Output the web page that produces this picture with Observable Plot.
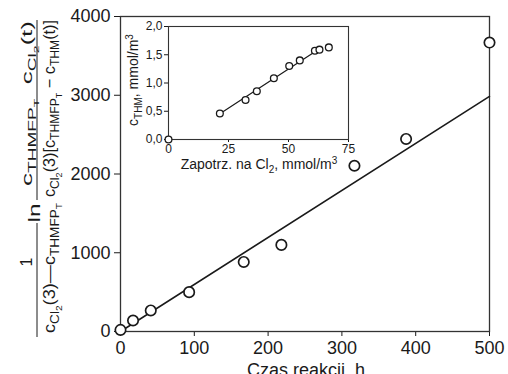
<!DOCTYPE html>
<html><head><meta charset="utf-8">
<script src="https://cdn.jsdelivr.net/npm/d3@7"></script>
<script src="https://cdn.jsdelivr.net/npm/@observablehq/plot@0.6"></script>
<style>
body{margin:0;background:#fff;}
#wrap{position:relative;width:508px;height:374px;overflow:hidden;}
#inset{position:absolute;left:120px;top:10px;}
text{white-space:pre;}
</style></head><body>
<div id="wrap"><div id="main"></div><div id="inset"></div></div>
<script>
// Main chart data
const timeH = [0, 17, 41, 93, 167, 218, 317, 387, 500];
const kValue = [20, 140, 267, 500, 883, 1100, 2105, 2445, 3669];
const fitTime = [0, 500];
const fitK = [0, 2985];
const xTicks = [0, 100, 200, 300, 400, 500];
const yTicks = [0, 1000, 2000, 3000, 4000];

// Inset data
const demandCl2 = [0, 21.4, 32.1, 36.8, 43.9, 50.3, 54.7, 61.0, 62.9, 66.8];
const cTHM = [0, 0.46, 0.70, 0.855, 1.085, 1.30, 1.40, 1.57, 1.59, 1.63];
const fitDemand = [21.4, 61.5];
const fitTHM = [0.455, 1.565];
const insetXTicks = [0, 25, 50, 75];
const insetYTicks = [0, 0.5, 1.0, 1.5, 2.0];

const font = "'Liberation Sans', Arial, Helvetica, sans-serif";
const ink = "#1a1a1a";

const pts = timeH.map((t, i) => ({t, k: kValue[i]}));
const fit = fitTime.map((t, i) => ({t, k: fitK[i]}));

const main = Plot.plot({
  width: 508, height: 374,
  marginLeft: 120, marginRight: 19, marginTop: 16, marginBottom: 43,
  style: {fontFamily: font, fontSize: "18px", background: "white", color: ink},
  x: {domain: [0, 500], ticks: xTicks, tickSize: 5, tickPadding: 5, label: null, tickFormat: d => String(d)},
  y: {domain: [0, 4000], ticks: yTicks, tickSize: 6, tickPadding: 4, label: null, tickFormat: d => String(d)},
  marks: [
    Plot.frame({stroke: "#333", strokeWidth: 1.3}),
    Plot.line(fit, {x: "t", y: "k", stroke: ink, strokeWidth: 1.6}),
    Plot.dot(pts, {x: "t", y: "k", r: 5.2, stroke: ink, strokeWidth: 1.7, fill: "white"})
  ]
});
document.getElementById("main").appendChild(main);

function richText(parent, x, y, segs, anchor, len) {
  const t = parent.append("text").attr("x", x).attr("y", y)
    .attr("text-anchor", anchor || "middle").attr("fill", ink).attr("font-family", font);
  if (len) t.attr("textLength", len).attr("lengthAdjust", "spacingAndGlyphs");
  let cur = 0;
  for (const [str, size, off] of segs) {
    t.append("tspan").attr("font-size", size).attr("dy", off - cur).text(str);
    cur = off;
  }
  return t;
}

const svg = d3.select(main);
// x-axis title
richText(svg, 306, 376, [["Czas reakcji, h", 18, 0]]);

// y-axis title: rotated fraction expression (local x = upward, local y = rightward)
const M = 16, S = 12, SS = 9, so = 4, sso = 7;
const g = svg.append("g").attr("transform", "translate(37,177) rotate(-90)");
// first fraction 1/(cCl2(3) - cTHMFPT)
g.append("line").attr("x1", -160).attr("x2", -46).attr("y1", 0).attr("y2", 0).attr("stroke", ink).attr("stroke-width", 1);
richText(g, -85, -5, [["1", M, 0]]);
richText(g, -91, 18, [["c", M, 0], ["Cl", S, so], ["2", SS, sso], ["(3)—c", M, 0], ["THMFP", S, so], ["T", SS, sso]], "middle", 130);
// ln
richText(g, -36, 3, [["ln", M, 0]], "middle", 19);
// second fraction
g.append("line").attr("x1", -23).attr("x2", 157).attr("y1", 0).attr("y2", 0).attr("stroke", ink).attr("stroke-width", 1);
richText(g, 73.5, -5, [["c", 15, 0], ["THMFP", 11, so], ["T", 8, sso], ["  c", 15, 0], ["Cl", 11, so], ["2", 8, sso], ["(t)", 15, 0]], "middle", 165);
richText(g, 68.5, 18, [["c", M, 0], ["Cl", S, so], ["2", SS, sso], ["(3)[c", M, 0], ["THMFP", S, so], ["T", SS, sso], [" − c", M, 0], ["THM", S, so], ["(t)]", M, 0]], "middle", 177);

// Inset
const ipts = demandCl2.map((x, i) => ({x, y: cTHM[i]}));
const ifit = fitDemand.map((x, i) => ({x, y: fitTHM[i]}));
const inset = Plot.plot({
  width: 240, height: 166,
  marginLeft: 48, marginRight: 12, marginTop: 16, marginBottom: 37,
  style: {fontFamily: font, fontSize: "12px", background: "transparent", color: ink},
  x: {domain: [0, 75], ticks: insetXTicks, tickSize: 3, tickPadding: 2, label: null, tickFormat: d => String(d)},
  y: {domain: [0, 2], ticks: insetYTicks, tickSize: 4, tickPadding: 2, label: null, tickFormat: d => d.toFixed(1).replace(".", ",")},
  marks: [
    Plot.frame({stroke: "#333", strokeWidth: 1.1, fill: "white"}),
    Plot.line(ifit, {x: "x", y: "y", stroke: ink, strokeWidth: 1.2}),
    Plot.dot(ipts, {x: "x", y: "y", r: 3.4, stroke: ink, strokeWidth: 1.3, fill: "white"})
  ]
});
document.getElementById("inset").appendChild(inset);
const isvg = d3.select(inset);
richText(isvg, 139, 159, [["Zapotrz. na Cl", 14, 0], ["2", 10, 4], [", mmol/m", 14, 0], ["3", 10, -5]]);
const ig = isvg.append("g").attr("transform", "translate(18,70) rotate(-90)");
richText(ig, 0, 0, [["c", 14, 0], ["THM", 10, 4], [", mmol/m", 14, 0], ["3", 10, -5]]);
</script>
</body></html>
